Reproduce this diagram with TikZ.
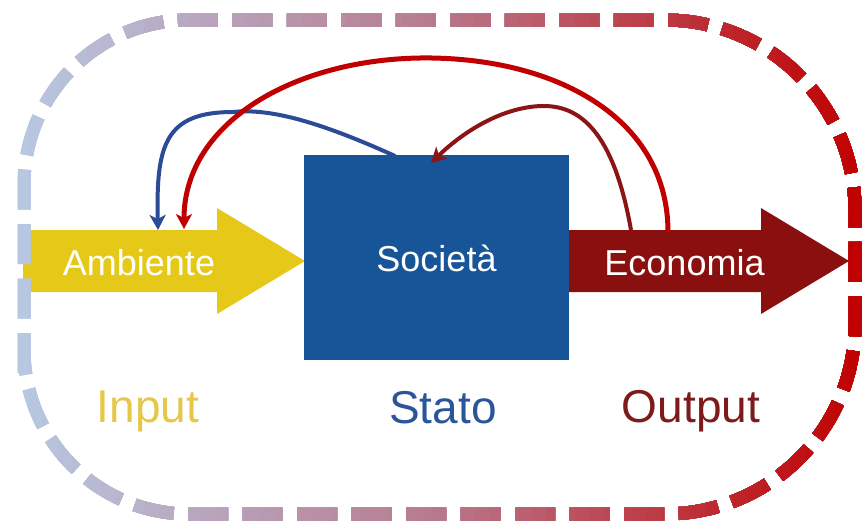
\documentclass[tikz,border=0pt]{standalone}
\usepackage{fontspec}
\setmainfont{Liberation Sans}
\usetikzlibrary{arrows.meta}
\definecolor{gL}{RGB}{184,204,230}
\definecolor{gM}{RGB}{184,122,142}
\definecolor{gR}{RGB}{192,0,0}
\definecolor{ambY}{RGB}{230,200,25}
\definecolor{inY}{RGB}{229,200,74}
\definecolor{socB}{RGB}{23,84,152}
\definecolor{statoB}{RGB}{42,85,155}
\definecolor{ecoR}{RGB}{138,16,16}
\definecolor{outR}{RGB}{125,26,26}
\definecolor{curB}{RGB}{43,75,150}
\definecolor{curR}{RGB}{192,0,0}
\definecolor{curD}{RGB}{139,20,20}
\newcommand\bpath{(24,373) -- (24,185) .. controls (24,93.9) and (97.9,20) .. (189,20) -- (665,20) .. controls (769.9,20) and (855,105.1) .. (855,210) -- (855,324) .. controls (855,428.9) and (769.9,514) .. (665,514) -- (189,514) .. controls (97.9,514) and (24,440.1) .. (24,349) -- cycle}
\tikzset{
  border/.style={line width=13pt, dash pattern=on 40pt off 14.5pt, line cap=butt},
  lbl/.style={anchor=base, text=white, inner sep=0pt, font=\fontsize{36}{40}\selectfont},
  captxt/.style={anchor=base, inner sep=0pt, font=\fontsize{46}{50}\selectfont},
  feed/.style={-{Stealth[length=15pt,width=16pt,inset=4pt]}}
}
\begin{document}
\begin{tikzpicture}[x=1pt,y=-1pt]
\useasboundingbox (0,0) rectangle (863,523);
% big arrows
\fill[ambY] (23,230) -- (217,230) -- (217,208) -- (305,261) -- (217,314) -- (217,292) -- (23,292) -- cycle;
\fill[ecoR] (569,230) -- (761,230) -- (761,208) -- (849,261) -- (761,314) -- (761,292) -- (569,292) -- cycle;
% box
\node[fill=socB, minimum width=265pt, minimum height=205pt, inner sep=0pt] (soc) at (436.5,257.5) {};
% dashed gradient border
\foreach \i in {0,...,29}{
  \pgfmathsetmacro\xa{\i*14.3833}
  \pgfmathsetmacro\pc{(\i+0.5)*3.3333}
  \begin{scope}
    \clip (\xa,-20) rectangle (880,560);
    \colorlet{sc}{gM!\pc!gL}
    \draw[border, sc] \bpath;
  \end{scope}
}
\foreach \i in {30,...,59}{
  \pgfmathsetmacro\xa{\i*14.3833}
  \pgfmathsetmacro\pc{(\i-29.5)*3.3333}
  \begin{scope}
    \clip (\xa,-20) rectangle (880,560);
    \colorlet{sc}{gR!\pc!gM}
    \draw[border, sc] \bpath;
  \end{scope}
}
% labels
\node[lbl] (amb) at (139,275) {Ambiente};
\node[lbl] (soct) at (436.5,271) {Società};
\node[lbl] (eco) at (684.5,275) {Economia};
\node[captxt, text=inY] (inp) at (148,422) {Input};
\node[captxt, text=statoB] (sta) at (443,423) {Stato};
\node[captxt, text=outR] (out) at (691,422) {Output};
% connector endpoints
\coordinate (bS) at (395,156);
\coordinate (bE) at (158,230);
\coordinate (rS) at (668,232);
\coordinate (rE) at (184,229);
\coordinate (dS) at (631,230);
\coordinate (dE) at (431,163);
% feedback curves
\draw[feed, curB, line width=4pt] (bS) .. controls (320,122) and (270,108) .. (233,112) .. controls (165,112) and (156,145) .. (bE);
\draw[feed, curR, line width=5pt] (rS) .. controls (668,120) and (560,60) .. (432,58) .. controls (300,56) and (184,120) .. (rE);
\draw[feed, curD, line width=4pt] (dS) .. controls (615,140) and (585,106) .. (544,106) .. controls (505,106) and (465,130) .. (dE);
\end{tikzpicture}
\end{document}
